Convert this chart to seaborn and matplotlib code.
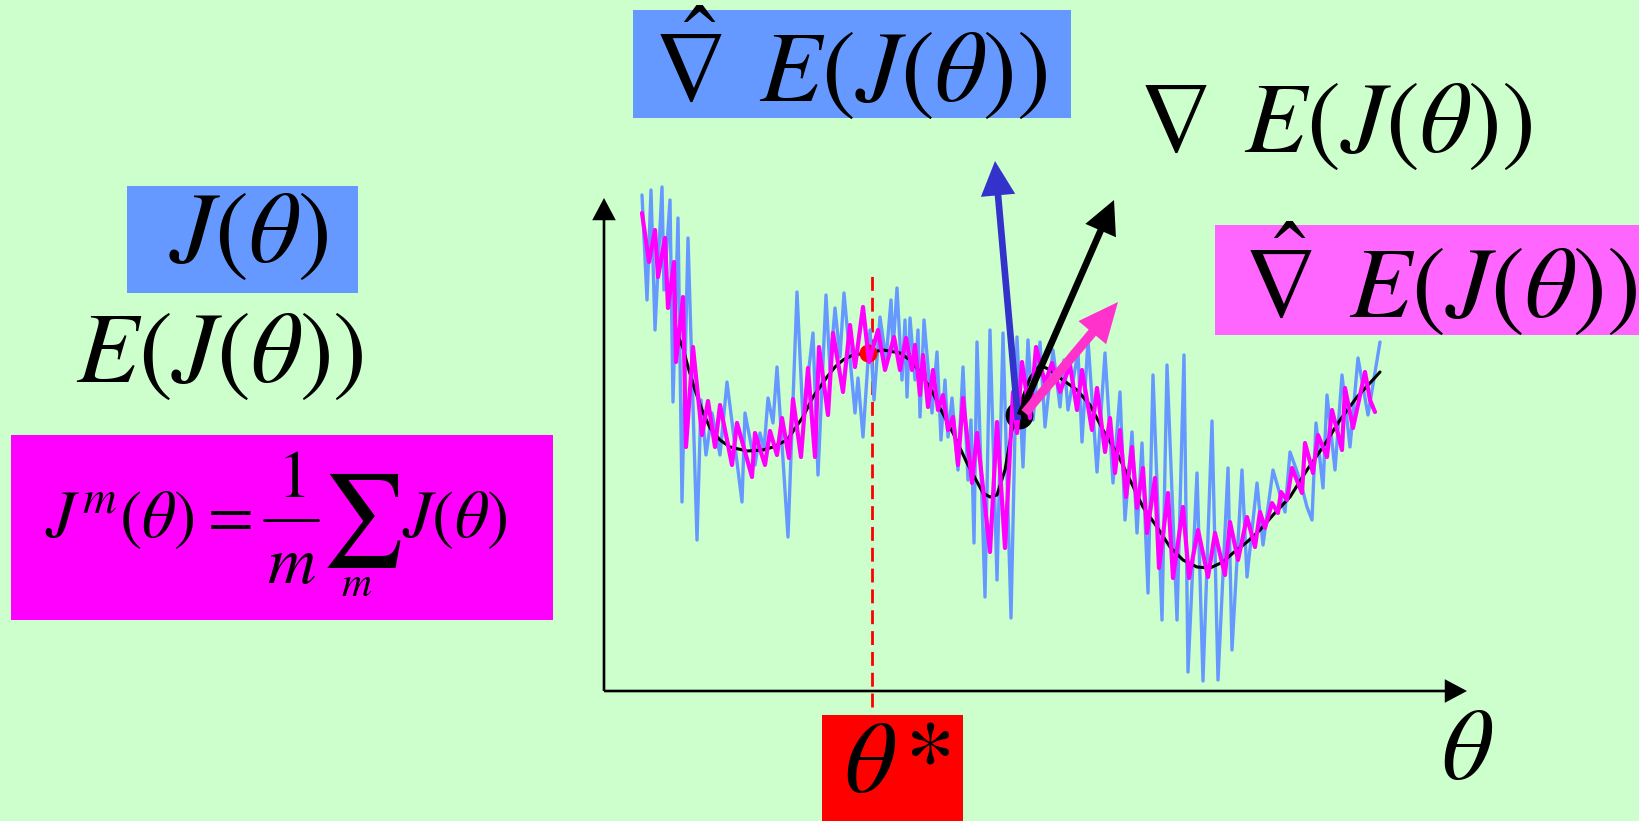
import matplotlib
matplotlib.use('Agg')
import matplotlib.pyplot as plt
import seaborn as sns
from matplotlib.patches import Rectangle

# ---- curve data (theta, J) ----
# true expected cost E(J(theta)), smooth black line
theta_true = [7.2, 7.9, 8.4, 9.1, 9.8, 10.6, 11.6, 12.6, 14.3, 15.9,
              16.9, 18.3, 19.9, 20.9, 22.3, 23.1, 23.9, 24.9, 26.3, 27.9,
              29.6, 30.6, 31.6, 32.9, 33.6, 34.9, 36.3, 37.9, 38.6, 39.3,
              40.1, 40.8, 41.6, 42.6, 43.6, 44.6, 45.6, 47.3, 48.6, 49.9,
              51.3, 52.6, 53.9, 55.3, 56.6, 57.9, 59.3, 60.6, 61.9, 62.9,
              64.3, 65.6, 66.9, 68.6, 70.3, 71.9, 73.6, 75.3, 76.6, 77.6]
J_true = [36.0, 34.3, 32.4, 30.1, 28.1, 26.3, 25.1, 24.4, 24.0, 24.1,
          24.4, 25.1, 27.4, 29.4, 31.4, 32.4, 33.1, 33.6, 33.8, 34.1,
          33.8, 33.1, 31.9, 29.8, 28.3, 25.8, 22.8, 19.8, 19.4, 19.6,
          22.1, 26.1, 28.6, 31.3, 32.6, 32.1, 31.3, 30.1, 28.6, 26.1,
          23.8, 21.1, 18.4, 16.4, 14.4, 13.1, 12.4, 12.3, 12.9, 13.8,
          14.9, 16.1, 17.6, 19.4, 22.1, 24.4, 27.1, 29.4, 30.8, 31.9]

# averaged sample cost J^m(theta), magenta
theta_avg = [3.8, 4.5, 5.1, 5.4, 6.1, 6.4, 7.0, 7.2, 7.9, 8.2,
             8.9, 9.8, 10.4, 11.1, 11.6, 12.8, 13.3, 14.8, 15.1, 16.1,
             16.6, 17.3, 17.8, 18.5, 18.9, 19.7, 20.4, 21.1, 21.5, 22.4,
             22.9, 23.9, 24.6, 25.1, 25.9, 26.5, 27.4, 28.1, 29.0, 29.6,
             30.2, 30.8, 31.1, 31.6, 31.9, 32.4, 32.9, 33.4, 33.9, 34.4,
             34.9, 35.4, 35.9, 36.8, 37.3, 38.6, 39.3, 40.1, 40.9, 41.3,
             41.8, 42.6, 43.2, 44.1, 44.8, 45.6, 46.6, 47.3, 47.8, 48.8,
             49.3, 50.1, 50.6, 51.1, 51.6, 52.2, 52.8, 53.3, 53.9, 54.3,
             55.1, 55.5, 56.4, 56.9, 57.9, 58.5, 59.4, 60.4, 61.1, 62.1,
             62.6, 63.4, 64.3, 65.1, 65.6, 66.1, 66.8, 67.4, 67.7, 68.3,
             68.8, 69.8, 70.1, 70.9, 71.4, 72.3, 72.8, 73.8, 74.1, 74.9,
             76.1, 76.6, 77.1]
J_avg = [47.8, 42.9, 46.1, 41.4, 45.3, 38.3, 42.9, 32.9, 39.4, 24.4,
         34.4, 25.6, 29.0, 24.4, 28.6, 22.6, 26.8, 21.4, 25.8, 22.6,
         26.0, 23.6, 27.3, 23.3, 29.2, 23.4, 32.3, 23.4, 34.4, 27.6,
         35.8, 29.9, 36.6, 32.4, 38.4, 32.9, 36.1, 32.1, 35.4, 32.1,
         35.3, 32.1, 34.6, 29.6, 33.6, 28.4, 32.1, 28.1, 29.6, 26.1,
         27.4, 22.6, 29.3, 20.8, 25.8, 13.9, 26.9, 14.3, 29.9, 25.8,
         32.9, 27.3, 34.4, 30.8, 32.8, 29.9, 32.6, 28.1, 32.1, 26.1,
         30.3, 23.9, 27.3, 21.8, 26.1, 19.4, 24.4, 18.3, 22.3, 15.8,
         21.3, 12.3, 19.8, 11.3, 18.4, 11.3, 16.1, 11.4, 15.8, 11.6,
         16.9, 13.1, 17.4, 14.4, 17.9, 16.3, 18.8, 17.8, 19.9, 19.1,
         22.3, 19.8, 24.8, 21.8, 25.6, 23.4, 28.1, 24.1, 30.3, 26.3,
         31.9, 29.1, 27.9]

# single-sample cost J(theta), blue
theta_noisy = [3.8, 4.3, 4.7, 5.1, 5.8, 6.0, 6.6, 6.9, 7.4, 7.8,
               8.4, 9.3, 9.7, 10.2, 10.8, 11.6, 12.3, 13.8, 14.1, 15.1,
               15.6, 16.0, 16.4, 16.9, 17.3, 18.4, 19.3, 19.9, 20.9, 21.4,
               22.2, 22.6, 23.1, 23.6, 24.0, 25.1, 25.4, 25.9, 26.6, 27.0,
               27.6, 28.2, 28.7, 28.9, 29.3, 29.8, 30.1, 30.3, 30.6, 31.1,
               31.4, 31.6, 32.0, 32.8, 33.3, 33.7, 34.1, 34.4, 34.8, 35.4,
               35.9, 36.4, 36.7, 37.0, 37.3, 38.1, 38.6, 39.3, 39.9, 40.7,
               41.3, 41.9, 42.4, 42.9, 43.6, 44.1, 44.9, 45.6, 46.0, 46.4,
               47.4, 47.8, 48.4, 49.3, 50.1, 50.9, 51.6, 52.1, 52.8, 53.3,
               53.8, 54.4, 54.9, 55.8, 56.3, 57.3, 58.0, 58.4, 59.3, 59.9,
               60.8, 61.4, 62.4, 62.8, 63.8, 64.3, 65.3, 65.9, 66.9, 68.1,
               68.6, 69.6, 70.3, 70.8, 71.2, 71.9, 72.3, 73.1, 73.8, 74.6,
               75.4, 76.4, 77.6]
J_noisy = [49.6, 39.1, 50.1, 36.1, 50.4, 40.1, 49.1, 28.9, 47.3, 18.9,
           45.3, 15.1, 29.1, 23.6, 27.8, 23.6, 30.9, 18.9, 27.8, 22.6,
           25.8, 24.1, 29.3, 26.8, 32.4, 15.4, 39.9, 27.1, 35.8, 21.6,
           39.6, 32.1, 38.3, 33.4, 39.8, 27.8, 31.3, 25.4, 36.1, 29.1,
           37.4, 33.1, 39.1, 34.1, 40.3, 31.1, 37.1, 29.4, 37.3, 31.1,
           36.1, 27.4, 37.1, 27.8, 33.9, 25.1, 31.1, 25.4, 29.3, 22.1,
           32.4, 21.1, 27.1, 14.8, 34.9, 9.4, 36.1, 11.1, 35.8, 7.3,
           35.4, 22.4, 35.1, 27.1, 34.9, 26.4, 34.1, 28.4, 33.1, 28.1,
           33.9, 24.9, 35.1, 21.9, 33.8, 20.8, 29.9, 17.1, 25.9, 15.8,
           24.8, 9.8, 31.6, 7.1, 32.6, 7.1, 33.6, 1.9, 21.8, 1.0,
           27.0, 1.1, 22.3, 4.1, 22.1, 11.4, 20.8, 14.6, 22.1, 17.9,
           23.9, 21.1, 18.4, 17.1, 26.8, 20.3, 29.6, 22.1, 31.6, 24.4,
           33.3, 27.6, 34.9]

theta_star = 26.8                 # dashed marker of the optimum
optimum_point = (26.4, 33.8)      # red dot on E(J)
current_point = (41.5, 27.6)      # black dot where gradients start

# gradient arrows: (tail, tip)
grad_est_blue = ((41.4, 27.1), (39.1, 53.0))
grad_true = ((41.6, 27.6), (51.0, 49.1))
grad_est_pink = ((42.1, 27.8), (51.4, 38.9))

theta_max, J_max = 86.3, 49.3

# ---- style ----
sns.set_theme(style='white')
plt.rcParams['mathtext.fontset'] = 'stix'
plt.rcParams['font.family'] = ['STIXGeneral', 'DejaVu Serif']
plt.rcParams['text.color'] = 'black'

bg_color = '#CCFFCC'
fig = plt.figure(figsize=(16.39, 8.21), dpi=100, facecolor=bg_color)

# overlay in pixel units for the text boxes
bg = fig.add_axes([0, 0, 1, 1], zorder=0)
bg.set_xlim(0, 1639)
bg.set_ylim(821, 0)
bg.axis('off')

ax = fig.add_axes([604 / 1639, 130 / 821, 863 / 1639, 493 / 821], zorder=1)
ax.set_xlim(0, theta_max)
ax.set_ylim(0, J_max)
ax.patch.set_alpha(0)
ax.axis('off')

# axes arrows
for tip in [(theta_max, 0), (0, J_max)]:
    ax.annotate('', xy=tip, xytext=(0, 0), annotation_clip=False,
                arrowprops=dict(arrowstyle='simple,head_width=0.85,head_length=0.8,tail_width=0.095',
                                mutation_scale=20, color='black', lw=0,
                                shrinkA=0, shrinkB=0))

# dashed line at theta*
ax.axvline(theta_star, ymin=-0.033, ymax=0.848, color='red', lw=2,
           ls=(0, (5, 2.5)), clip_on=False, zorder=2)

sns.lineplot(x=theta_noisy, y=J_noisy, color='#6699FF', lw=2.4, ax=ax,
             sort=False, estimator=None, clip_on=False, zorder=3,
             solid_joinstyle='round')
ax.plot(*current_point, 'o', color='black', ms=19, zorder=3.5)
sns.lineplot(x=theta_true, y=J_true, color='black', lw=2.2, ax=ax,
             sort=False, estimator=None, clip_on=False, zorder=4)
ax.plot(*optimum_point, 'o', color='red', ms=12, zorder=4.5)
sns.lineplot(x=theta_avg, y=J_avg, color='#FF00FF', lw=3, ax=ax,
             sort=False, estimator=None, clip_on=False, zorder=5,
             solid_joinstyle='round')

# gradient arrows
arrow_specs = [
    (grad_est_blue, '#3333CC', 'simple,head_width=0.62,head_length=0.62,tail_width=0.12', 40, 6),
    (grad_true, 'black', 'simple,head_width=0.6,head_length=0.6,tail_width=0.12', 40, 6),
    (grad_est_pink, '#FF33CC', 'simple,head_width=0.65,head_length=0.72,tail_width=0.17', 40, 7),
]
for (tail, tip), col, style, ms, z in arrow_specs:
    ax.annotate('', xy=tip, xytext=tail, annotation_clip=False, zorder=z,
                arrowprops=dict(arrowstyle=style, mutation_scale=ms, color=col,
                                lw=0, shrinkA=0, shrinkB=0))

# ---- labels ----
boxes = [
    ((127, 186), 231, 107, '#6699FF'),
    ((11, 435), 542, 185, '#FF00FF'),
    ((633, 10), 438, 108, '#6699FF'),
    ((1215, 225), 424, 110, '#FF66FF'),
    ((822, 715), 141, 106, '#FF0000'),
]
for xy, w, h, col in boxes:
    bg.add_patch(Rectangle(xy, w, h, facecolor=col, edgecolor='none'))

big = 73
bg.text(248, 238, r'$J(\theta)$', fontsize=big, ha='center', va='center')
bg.text(220, 358, r'$E(J(\theta))$', fontsize=big, ha='center', va='center')
bg.text(850, 64, r'$\hat{\nabla}\;\,E(J(\theta))$', fontsize=big, ha='center', va='center')
bg.text(1335, 128, r'$\nabla\;\,E(J(\theta))$', fontsize=big, ha='center', va='center')
bg.text(1440, 280, r'$\hat{\nabla}\;\,E(J(\theta))$', fontsize=big, ha='center', va='center')
bg.text(897, 768, r'$\theta\,{*}$', fontsize=big, ha='center', va='center')
bg.text(1467, 755, r'$\theta$', fontsize=big, ha='center', va='center')

# averaged cost formula, set piece by piece
fs = 48
bg.text(45, 537, r'$J^{m}(\theta)$', fontsize=fs, ha='left', va='baseline')
bg.text(231, 537, '=', fontsize=fs, ha='center', va='baseline')
bg.text(291, 497, r'$1$', fontsize=fs, ha='center', va='baseline')
bg.plot([264, 318], [520, 520], color='black', lw=2)
bg.text(291, 583, r'$m$', fontsize=fs, ha='center', va='baseline')
bg.text(361, 521, r'$\sum$', fontsize=66, ha='center', va='center')
bg.text(357, 596, r'$m$', fontsize=30, ha='center', va='baseline')
bg.text(402, 537, r'$J(\theta)$', fontsize=fs, ha='left', va='baseline')

fig.savefig('out.png', dpi=100, facecolor=bg_color)
